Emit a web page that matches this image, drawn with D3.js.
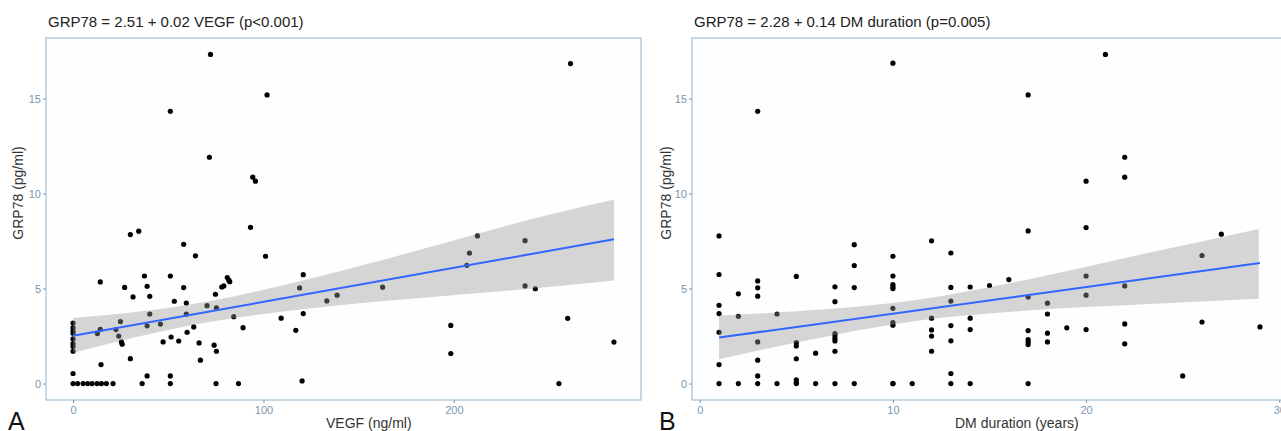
<!DOCTYPE html>
<html>
<head>
<meta charset="utf-8">
<script src="https://cdn.jsdelivr.net/npm/d3@7"></script>
<style>
    body { margin: 0; background: #ffffff; }
    svg { display: block; font-family: "Liberation Sans", Arial, sans-serif; }
</style>
</head>
<body>
<div id="chart"></div>
<script>

// panel A: VEGF (ng/ml) vs GRP78 (pg/ml)
var vegfX = [
    0, 0, 0, 0, 0, 0, 0, 0, 0, 0,
    2.4, 5.3, 7.7, 10, 12.6, 14.9, 17.5, 21, 36.3, 51.1, 75.1, 86.9, 255.2,
    72.2, 51.1, 101.9, 71.6, 94.4, 95.8, 93.2, 34.5, 30.1, 58.1, 64.3, 101.1,
    14.3, 37.5, 51.1, 27.1, 31.5, 38.9, 40.3, 58.1, 53.2, 59.5, 74.8,
    78.1, 79.2, 81, 81.8, 82.3,
    40.3, 70.4, 75.3, 59.5, 84.4, 45.9, 38.9, 24.9, 63.4, 59.9, 89.3,
    51.5, 55.5, 47.3, 66.2, 74.1, 75.3, 66.9, 30.1, 24, 25.4, 25.8,
    12.8, 14.3, 22.5, 14.7, 109.3, 117, 120.9, 120.9, 119, 133.3, 138.7,
    120.3, 38.9, 51.1, 162.6, 198.4, 198.4, 206.8, 208.2, 212.4,
    237.4, 237.4, 242.8, 259.8, 284.1, 261.3
];
var vegfGrp = [
    3.18, 2.95, 2.78, 2.65, 2.35, 2.1, 1.95, 1.7, 0.53, 0,
    0, 0, 0, 0, 0, 0, 0, 0, 0, 0, 0, 0, 0,
    17.32, 14.33, 15.19, 11.91, 10.86, 10.65, 8.22, 8.02, 7.84, 7.33, 6.72, 6.7,
    5.35, 5.66, 5.66, 5.06, 4.56, 5.12, 4.59, 5.05, 4.33, 4.24, 4.7,
    5.08, 5.14, 5.58, 5.44, 5.36,
    3.66, 4.1, 3.98, 3.65, 3.52, 3.13, 3.04, 3.26, 2.98, 2.7, 2.94,
    2.45, 2.24, 2.19, 2.14, 2.02, 1.7, 1.23, 1.31, 2.5, 2.19, 2.07,
    2.63, 2.85, 2.84, 1.0, 3.44, 2.8, 3.68, 5.73, 5.03, 4.35, 4.65,
    0.14, 0.4, 0.4, 5.07, 3.06, 1.58, 6.22, 6.86, 7.77,
    7.52, 5.14, 4.99, 3.43, 2.18, 16.84
];

// panel B: DM duration (years) vs GRP78 (pg/ml)
var dmX = [
    1, 1, 1, 1, 1, 1, 1,
    2, 2, 2,
    3, 3, 3, 3, 3, 3, 3, 3,
    4, 4,
    5, 5, 5, 5, 5, 5, 5,
    6, 6,
    7, 7, 7, 7, 7, 7, 7, 7,
    8, 8, 8, 8,
    10, 10, 10, 10, 10, 10, 10, 10, 10, 10, 10,
    11,
    12, 12, 12, 12, 12,
    13, 13, 13, 13, 13, 13, 13,
    14, 14, 14, 14,
    15, 16,
    17, 17, 17, 17, 17, 17, 17, 17,
    18, 18, 18, 18,
    19,
    20, 20, 20, 20, 20,
    21,
    22, 22, 22, 22, 22,
    25, 26, 26, 27, 29
];
var dmGrp = [
    7.77, 5.74, 4.12, 3.68, 2.7, 1.0, 0,
    4.72, 3.54, 0,
    14.33, 5.4, 5.04, 4.6, 2.19, 1.23, 0.4, 0,
    3.66, 0,
    5.64, 2.16, 1.98, 1.3, 0.2, 0.05, 0,
    1.6, 0,
    5.09, 4.31, 2.63, 2.51, 2.37, 2.24, 1.7, 0,
    7.31, 6.21, 5.05, 0,
    16.86, 6.7, 5.66, 5.21, 5.1, 5.0, 3.96, 3.21, 3.07, 0, 0,
    0,
    7.51, 3.44, 2.82, 2.5, 1.7,
    6.87, 5.06, 4.34, 3.05, 2.25, 0.53, 0,
    5.08, 3.44, 2.84, 0,
    5.16, 5.47,
    15.19, 8.03, 4.56, 2.79, 2.31, 2.19, 2.05, 0,
    4.23, 3.66, 2.65, 2.19,
    2.93,
    10.65, 8.21, 5.66, 4.65, 2.84,
    17.32,
    11.91, 10.86, 5.14, 3.14, 2.09,
    0.4, 6.74, 3.24, 7.86, 2.98
];

// fitted lines (from the titles) and the grey confidence band
var vegfFit = [2.51, 0.0179];
var vegfBandX = [0, 35, 70, 130, 190, 240, 284.1];
var vegfBandLo = [1.62, 2.49, 3.21, 4.02, 4.57, 4.99, 5.42];
var vegfBandHi = [3.45, 3.79, 4.31, 5.66, 7.25, 8.63, 9.68];

var dmFit = [2.28, 0.14];
var dmBandX = [1, 5, 11, 17, 23, 28.94];
var dmBandLo = [1.28, 2.16, 3.27, 3.84, 4.17, 4.46];
var dmBandHi = [3.58, 3.8, 4.37, 5.48, 6.83, 8.14];

var titles = ["GRP78 = 2.51 + 0.02 VEGF (p<0.001)", "GRP78 = 2.28 + 0.14 DM duration (p=0.005)"];
var xLabels = ["VEGF (ng/ml)", "DM duration (years)"];
var yLabel = "GRP78 (pg/ml)";
var panelTags = ["A", "B"];
var xTicks = [[0, 100, 200], [0, 10, 20, 30]];
var yTicks = [0, 5, 10, 15];

var width = 1281,
    height = 431,
    plotTop = 38,
    plotBottom = 400,
    panelLeft = [46, 692],
    panelWidth = 595,
    borderColor = "#a6bfd0",
    tickColor = "#7896ad",
    dotSize = 2.6;

function zip(xs, ys) {
    return xs.map(function(x, i) { return {x: x, y: ys[i]}; });
}

function bandRows(xs, lo, hi) {
    return xs.map(function(x, i) { return {x: x, lo: lo[i], hi: hi[i]}; });
}

var panels = [
    {points: zip(vegfX, vegfGrp), fit: vegfFit, band: bandRows(vegfBandX, vegfBandLo, vegfBandHi)},
    {points: zip(dmX, dmGrp), fit: dmFit, band: bandRows(dmBandX, dmBandLo, dmBandHi)}
];

// ggplot style 5% padding on each side
function padded(ext) {
    var pad = (ext[1] - ext[0]) * 0.05;
    return [ext[0] - pad, ext[1] + pad];
}

var svg = d3.select("#chart").append("svg")
    .attr("width", width)
    .attr("height", height);

panels.forEach(function(p, k) {
    var left = panelLeft[k];
    var x = d3.scaleLinear()
        .domain(padded(d3.extent(p.points, function(d) { return d.x; })))
        .range([left, left + panelWidth]);
    var y = d3.scaleLinear()
        .domain(padded([0, d3.max(p.points, function(d) { return d.y; })]))
        .range([plotBottom, plotTop]);

    var g = svg.append("g").attr("class", "panel");

    g.append("rect")
        .attr("x", left)
        .attr("y", plotTop)
        .attr("width", panelWidth)
        .attr("height", plotBottom - plotTop)
        .attr("fill", "#fdfeff");

    // points first, band over them like geom_smooth does
    g.selectAll(".dot").data(p.points)
        .enter().append("circle")
        .attr("class", "dot")
        .attr("cx", function(d) { return x(d.x); })
        .attr("cy", function(d) { return y(d.y); })
        .attr("r", dotSize)
        .attr("fill", "#000");

    var area = d3.area()
        .x(function(d) { return x(d.x); })
        .y0(function(d) { return y(d.lo); })
        .y1(function(d) { return y(d.hi); })
        .curve(d3.curveMonotoneX);

    g.append("path")
        .datum(p.band)
        .attr("d", area)
        .attr("fill", "#999999")
        .attr("fill-opacity", 0.4);

    var xs = d3.extent(p.points, function(d) { return d.x; });
    var line = d3.line()
        .x(function(d) { return x(d); })
        .y(function(d) { return y(p.fit[0] + p.fit[1] * d); });

    g.append("path")
        .datum(xs)
        .attr("d", line)
        .attr("fill", "none")
        .attr("stroke", "#3366ff")
        .attr("stroke-width", 2);

    g.append("rect")
        .attr("x", left)
        .attr("y", plotTop)
        .attr("width", panelWidth)
        .attr("height", plotBottom - plotTop)
        .attr("fill", "none")
        .attr("stroke", borderColor)
        .attr("stroke-width", 1.2);

    var xAxis = g.append("g")
        .attr("transform", "translate(0," + plotBottom + ")")
        .call(d3.axisBottom(x).tickValues(xTicks[k]).tickSize(3).tickPadding(3));
    var yAxis = g.append("g")
        .attr("transform", "translate(" + left + ",0)")
        .call(d3.axisLeft(y).tickValues(yTicks).tickSize(3).tickPadding(2));

    [xAxis, yAxis].forEach(function(a) {
        a.select(".domain").remove();
        a.selectAll("line").attr("stroke", tickColor);
        a.selectAll("text")
            .attr("fill", tickColor)
            .style("font-size", "11px")
            .style("font-family", "'Liberation Sans', Arial, sans-serif");
    });

    g.append("text")
        .attr("x", left + 2)
        .attr("y", 27)
        .text(titles[k])
        .style("font-size", "15px")
        .attr("fill", "#222");

    g.append("text")
        .attr("x", k == 0 ? 326 : 955)
        .attr("y", 428)
        .text(xLabels[k])
        .style("font-size", "14px")
        .attr("fill", "#333");

    g.append("text")
        .attr("transform", "translate(" + (k == 0 ? 23 : 671) + ",193) rotate(-90)")
        .attr("text-anchor", "middle")
        .text(yLabel)
        .style("font-size", "14px")
        .attr("fill", "#333");

    g.append("text")
        .attr("x", k == 0 ? 8 : 659)
        .attr("y", 430)
        .text(panelTags[k])
        .style("font-size", "25px")
        .attr("fill", "#111");
});

</script>
</body>
</html>
